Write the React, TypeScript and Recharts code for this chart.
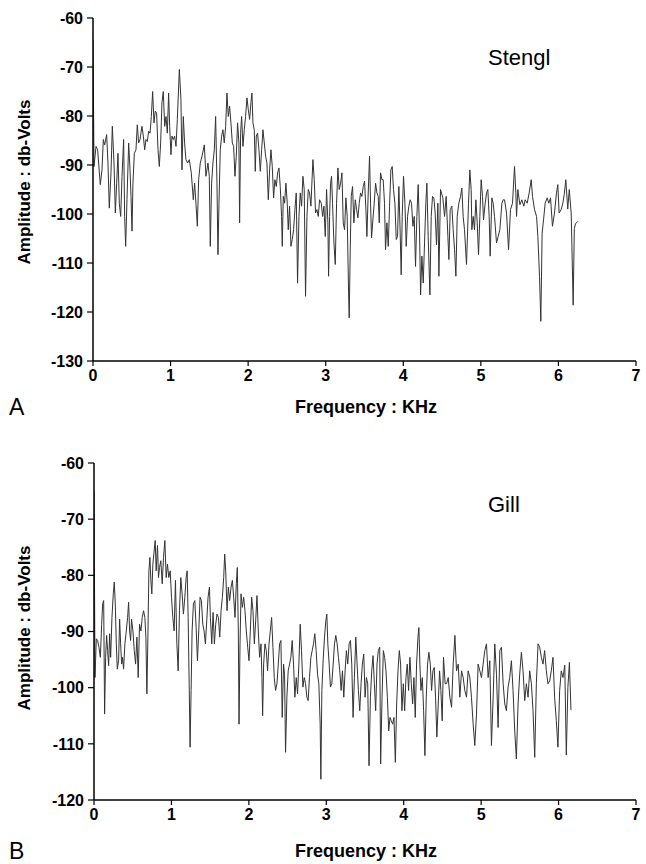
import React from 'react';
import { LineChart, Line, XAxis, YAxis } from 'recharts';

const freqTicks = [0, 1, 2, 3, 4, 5, 6, 7];
const stenglTicks = [-130, -120, -110, -100, -90, -80, -70, -60];
const gillTicks = [-120, -110, -100, -90, -80, -70, -60];

const stenglKHz = [
  0, 0.013, 0.039, 0.06, 0.082, 0.094, 0.116, 0.133, 0.15, 0.176, 0.193, 0.21, 0.232, 0.249, 0.271, 0.288, 0.305, 0.322, 0.339, 0.357,
  0.374, 0.395, 0.408, 0.421, 0.438, 0.46, 0.477, 0.49, 0.503, 0.515, 0.533, 0.554, 0.571, 0.588, 0.606, 0.631, 0.649, 0.666, 0.683, 0.7,
  0.717, 0.735, 0.752, 0.769, 0.786, 0.803, 0.82, 0.838, 0.855, 0.872, 0.889, 0.906, 0.924, 0.941, 0.958, 0.975, 0.988, 1.005, 1.018, 1.035,
  1.052, 1.07, 1.087, 1.113, 1.134, 1.147, 1.164, 1.181, 1.198, 1.22, 1.241, 1.267, 1.293, 1.31, 1.327, 1.345, 1.362, 1.383, 1.405, 1.435,
  1.456, 1.482, 1.499, 1.512, 1.529, 1.546, 1.564, 1.581, 1.598, 1.611, 1.624, 1.641, 1.658, 1.675, 1.692, 1.71, 1.727, 1.744, 1.761, 1.778,
  1.796, 1.813, 1.83, 1.847, 1.864, 1.881, 1.89, 1.903, 1.916, 1.933, 1.95, 1.967, 1.985, 2.002, 2.019, 2.036, 2.049, 2.062, 2.079, 2.092,
  2.105, 2.122, 2.139, 2.157, 2.174, 2.191, 2.208, 2.225, 2.242, 2.26, 2.277, 2.294, 2.311, 2.328, 2.345, 2.363, 2.38, 2.397, 2.414, 2.431,
  2.44, 2.453, 2.47, 2.487, 2.504, 2.517, 2.534, 2.552, 2.569, 2.586, 2.603, 2.62, 2.637, 2.655, 2.672, 2.689, 2.706, 2.723, 2.74, 2.758,
  2.775, 2.792, 2.809, 2.835, 2.852, 2.869, 2.887, 2.904, 2.921, 2.943, 2.96, 2.977, 2.994, 3.011, 3.028, 3.037, 3.05, 3.063, 3.075, 3.088,
  3.106, 3.123, 3.14, 3.157, 3.174, 3.192, 3.209, 3.226, 3.243, 3.26, 3.277, 3.295, 3.303, 3.316, 3.329, 3.346, 3.363, 3.381, 3.398, 3.415,
  3.432, 3.449, 3.466, 3.484, 3.501, 3.518, 3.531, 3.548, 3.565, 3.578, 3.591, 3.608, 3.625, 3.643, 3.66, 3.677, 3.69, 3.707, 3.724, 3.741,
  3.758, 3.771, 3.789, 3.806, 3.823, 3.84, 3.857, 3.874, 3.892, 3.909, 3.926, 3.943, 3.96, 3.973, 3.986, 4.003, 4.021, 4.038, 4.055, 4.072,
  4.089, 4.106, 4.124, 4.141, 4.158, 4.175, 4.192, 4.21, 4.223, 4.24, 4.257, 4.274, 4.291, 4.304, 4.321, 4.343, 4.36, 4.377, 4.394, 4.411,
  4.428, 4.446, 4.459, 4.48, 4.51, 4.532, 4.553, 4.575, 4.588, 4.605, 4.626, 4.643, 4.661, 4.678, 4.695, 4.716, 4.738, 4.755, 4.772, 4.789,
  4.815, 4.841, 4.858, 4.875, 4.884, 4.901, 4.918, 4.936, 4.953, 4.97, 4.987, 5.004, 5.021, 5.034, 5.056, 5.073, 5.09, 5.107, 5.12, 5.142,
  5.159, 5.176, 5.202, 5.223, 5.245, 5.271, 5.288, 5.305, 5.331, 5.357, 5.382, 5.408, 5.434, 5.451, 5.46, 5.477, 5.503, 5.528, 5.554, 5.571,
  5.597, 5.623, 5.649, 5.666, 5.692, 5.718, 5.735, 5.756, 5.773, 5.79, 5.808, 5.829, 5.855, 5.876, 5.898, 5.923, 5.949, 5.975, 5.992, 6.009,
  6.035, 6.057, 6.075, 6.095, 6.12, 6.14, 6.165, 6.19, 6.205, 6.22, 6.25,
];
const stenglDb = [
  -64.4, -90.3, -86.2, -86.9, -91.6, -94.0, -91.0, -84.8, -85.9, -83.8, -89.6, -98.8, -91.6, -82.1, -89.6, -99.8, -93.7, -87.6, -97.8, -100.5,
  -92.3, -84.8, -100.5, -106.6, -97.1, -85.5, -91.0, -96.4, -103.5, -93.7, -87.6, -86.9, -81.8, -85.5, -84.8, -82.1, -84.1, -86.9, -84.8, -85.2,
  -83.1, -83.5, -80.1, -75.0, -81.4, -79.0, -79.4, -86.9, -90.3, -85.5, -77.3, -75.0, -82.1, -80.1, -83.5, -75.3, -82.1, -87.9, -84.1, -84.8,
  -84.1, -86.2, -80.7, -70.5, -76.7, -91.0, -80.1, -85.5, -88.9, -89.6, -88.9, -91.6, -97.1, -93.7, -97.8, -102.5, -93.0, -89.6, -88.2, -85.9,
  -92.3, -89.6, -92.3, -106.6, -93.7, -89.6, -86.9, -80.1, -93.7, -108.3, -97.8, -86.9, -84.1, -82.8, -85.5, -82.1, -75.3, -80.1, -78.0, -81.4,
  -85.5, -86.2, -92.3, -88.2, -81.4, -85.5, -101.8, -83.5, -80.1, -86.2, -82.8, -80.1, -76.3, -78.7, -80.7, -77.3, -75.3, -81.4, -82.8, -91.3,
  -84.1, -83.5, -86.9, -91.3, -86.9, -82.8, -85.5, -88.2, -89.6, -97.1, -91.0, -86.9, -90.3, -96.7, -93.0, -94.4, -91.6, -90.6, -94.4, -100.5,
  -106.6, -96.4, -97.8, -93.7, -97.8, -103.2, -98.4, -106.6, -105.2, -103.2, -99.1, -95.7, -114.1, -100.5, -95.7, -98.4, -92.3, -95.0, -116.8, -100.5,
  -95.0, -95.7, -98.4, -88.9, -93.0, -99.8, -99.1, -100.5, -97.1, -97.8, -100.5, -98.4, -104.6, -95.0, -101.8, -112.7, -100.5, -93.7, -92.3, -97.8,
  -105.9, -110.3, -97.8, -90.6, -95.0, -93.7, -91.6, -101.8, -103.2, -96.7, -100.5, -116.1, -121.2, -107.3, -96.4, -94.4, -101.8, -97.1, -99.1, -100.8,
  -97.8, -95.7, -96.4, -94.4, -93.3, -99.1, -104.6, -95.7, -88.2, -97.8, -104.9, -101.2, -97.8, -93.7, -95.7, -96.4, -101.8, -91.6, -93.0, -93.0,
  -97.8, -107.3, -101.8, -106.6, -98.4, -91.0, -90.3, -95.0, -97.8, -105.2, -104.6, -94.4, -103.9, -112.4, -100.5, -92.3, -97.8, -106.6, -100.5, -98.4,
  -97.1, -97.8, -102.5, -100.5, -110.7, -100.5, -94.0, -103.9, -116.5, -108.6, -114.1, -105.9, -97.8, -93.7, -104.6, -116.5, -100.5, -96.4, -96.7, -99.8,
  -106.3, -97.8, -112.7, -95.0, -96.7, -100.5, -96.4, -104.6, -109.3, -99.1, -98.4, -103.2, -107.3, -112.7, -100.5, -97.8, -96.4, -94.7, -100.5, -103.2,
  -110.3, -97.8, -91.0, -95.0, -103.2, -100.5, -103.2, -97.1, -101.8, -108.3, -100.5, -93.0, -96.4, -101.2, -97.8, -95.7, -95.0, -100.5, -108.6, -96.7,
  -97.8, -100.5, -105.9, -104.6, -103.2, -97.8, -97.1, -97.1, -99.8, -107.3, -99.1, -97.8, -90.3, -95.7, -100.5, -95.0, -98.1, -97.1, -98.4, -97.1,
  -97.8, -95.7, -93.0, -96.4, -99.1, -100.5, -104.6, -112.7, -121.9, -103.9, -101.2, -97.8, -96.7, -97.8, -96.7, -102.5, -99.8, -95.7, -94.0, -99.8,
  -99.1, -97.8, -96.0, -93.0, -99.0, -95.0, -100.0, -118.6, -103.0, -102.0, -101.5,
];

const gillKHz = [
  0, 0.013, 0.03, 0.047, 0.064, 0.082, 0.099, 0.112, 0.125, 0.137, 0.15, 0.163, 0.176, 0.189, 0.202, 0.215, 0.232, 0.249, 0.262, 0.275,
  0.288, 0.301, 0.318, 0.331, 0.344, 0.357, 0.369, 0.382, 0.399, 0.417, 0.434, 0.447, 0.46, 0.473, 0.485, 0.503, 0.52, 0.537, 0.554, 0.571,
  0.588, 0.606, 0.623, 0.64, 0.657, 0.67, 0.683, 0.696, 0.709, 0.722, 0.735, 0.747, 0.76, 0.773, 0.79, 0.803, 0.82, 0.833, 0.846, 0.863,
  0.881, 0.898, 0.915, 0.932, 0.949, 0.966, 0.984, 1.001, 1.018, 1.035, 1.052, 1.07, 1.087, 1.104, 1.121, 1.138, 1.155, 1.173, 1.19, 1.203,
  1.216, 1.229, 1.241, 1.254, 1.267, 1.284, 1.302, 1.319, 1.336, 1.353, 1.37, 1.387, 1.405, 1.422, 1.439, 1.456, 1.473, 1.491, 1.503, 1.521,
  1.538, 1.555, 1.572, 1.589, 1.607, 1.624, 1.641, 1.658, 1.675, 1.688, 1.701, 1.718, 1.735, 1.752, 1.77, 1.787, 1.804, 1.821, 1.838, 1.851,
  1.864, 1.873, 1.886, 1.899, 1.916, 1.933, 1.95, 1.967, 1.985, 2.002, 2.019, 2.036, 2.053, 2.071, 2.088, 2.105, 2.122, 2.139, 2.157, 2.169,
  2.178, 2.191, 2.208, 2.225, 2.242, 2.26, 2.277, 2.294, 2.311, 2.328, 2.345, 2.363, 2.38, 2.397, 2.414, 2.431, 2.448, 2.461, 2.474, 2.491,
  2.508, 2.526, 2.543, 2.56, 2.577, 2.594, 2.612, 2.629, 2.646, 2.663, 2.68, 2.698, 2.715, 2.732, 2.749, 2.766, 2.783, 2.801, 2.818, 2.835,
  2.852, 2.869, 2.887, 2.904, 2.921, 2.93, 2.943, 2.96, 2.977, 2.994, 3.007, 3.02, 3.037, 3.054, 3.071, 3.089, 3.106, 3.123, 3.14, 3.157,
  3.174, 3.192, 3.209, 3.226, 3.243, 3.26, 3.277, 3.295, 3.312, 3.329, 3.346, 3.363, 3.381, 3.398, 3.415, 3.432, 3.449, 3.466, 3.484, 3.501,
  3.518, 3.535, 3.552, 3.57, 3.587, 3.604, 3.621, 3.638, 3.655, 3.672, 3.69, 3.702, 3.72, 3.737, 3.754, 3.771, 3.789, 3.806, 3.823, 3.84,
  3.857, 3.874, 3.892, 3.909, 3.926, 3.943, 3.96, 3.977, 3.995, 4.012, 4.029, 4.046, 4.063, 4.08, 4.098, 4.115, 4.132, 4.149, 4.166, 4.184,
  4.196, 4.209, 4.222, 4.24, 4.257, 4.274, 4.291, 4.308, 4.325, 4.343, 4.36, 4.377, 4.394, 4.411, 4.428, 4.446, 4.463, 4.48, 4.497, 4.514,
  4.535, 4.553, 4.575, 4.596, 4.618, 4.639, 4.661, 4.682, 4.704, 4.725, 4.747, 4.768, 4.789, 4.811, 4.832, 4.854, 4.875, 4.897, 4.918, 4.94,
  4.961, 4.983, 5.004, 5.026, 5.047, 5.069, 5.09, 5.112, 5.133, 5.155, 5.176, 5.198, 5.219, 5.241, 5.262, 5.284, 5.305, 5.326, 5.348, 5.369,
  5.391, 5.412, 5.434, 5.455, 5.477, 5.498, 5.52, 5.541, 5.563, 5.584, 5.606, 5.627, 5.649, 5.67, 5.692, 5.713, 5.735, 5.756, 5.778, 5.799,
  5.82, 5.842, 5.863, 5.885, 5.906, 5.928, 5.949, 5.971, 5.992, 6.014, 6.035, 6.057, 6.08, 6.1, 6.12, 6.14, 6.16,
];
const gillDb = [
  -64.9, -98.2, -91.3, -91.6, -92.8, -94.6, -88.7, -85.1, -84.5, -104.7, -94.6, -90.7, -93.4, -96.1, -90.4, -94.6, -87.5, -83.3, -81.2, -85.1,
  -92.2, -96.7, -95.2, -87.8, -92.2, -95.8, -94.6, -96.7, -92.2, -89.9, -87.5, -84.8, -89.9, -91.6, -87.8, -89.9, -93.4, -95.8, -91.0, -98.2,
  -88.7, -89.9, -87.5, -86.3, -87.5, -91.0, -101.1, -91.0, -79.2, -76.8, -81.0, -83.3, -78.0, -76.2, -73.8, -79.2, -74.7, -80.4, -78.6, -77.4,
  -81.5, -76.8, -73.8, -80.4, -78.0, -80.4, -79.2, -83.9, -87.5, -89.9, -80.9, -92.2, -97.0, -86.3, -80.4, -83.3, -86.9, -83.9, -80.4, -79.2,
  -87.5, -99.3, -110.6, -100.5, -89.9, -85.1, -84.5, -89.3, -95.2, -89.9, -83.9, -84.5, -88.7, -89.9, -92.2, -88.1, -83.9, -82.1, -87.5, -92.2,
  -86.6, -92.2, -88.7, -86.9, -87.5, -91.0, -86.3, -83.9, -80.4, -76.2, -79.2, -86.3, -82.1, -84.5, -82.1, -80.9, -83.9, -87.5, -81.5, -78.6,
  -89.9, -106.5, -92.2, -83.3, -85.7, -83.9, -86.3, -89.9, -92.8, -95.2, -89.9, -83.9, -86.3, -92.2, -88.1, -83.6, -89.9, -94.6, -92.2, -98.2,
  -105.0, -95.8, -92.2, -93.4, -97.0, -92.2, -89.9, -87.5, -92.8, -98.2, -100.5, -99.3, -95.8, -92.2, -91.6, -105.3, -95.8, -97.6, -111.5, -101.7,
  -97.0, -95.8, -94.6, -91.6, -95.8, -101.7, -98.2, -101.1, -95.8, -88.7, -93.4, -99.9, -98.2, -99.3, -101.7, -102.3, -98.2, -94.6, -93.4, -92.2,
  -90.4, -93.4, -97.6, -99.3, -106.5, -116.3, -100.5, -95.0, -91.0, -88.1, -86.9, -92.2, -95.8, -99.9, -99.3, -95.8, -92.2, -90.7, -92.2, -94.6,
  -97.0, -100.5, -97.0, -101.7, -97.0, -93.4, -95.8, -92.2, -91.6, -95.8, -105.3, -98.2, -91.0, -95.8, -100.5, -104.1, -99.3, -95.8, -94.0, -101.7,
  -98.2, -99.3, -113.9, -101.7, -97.0, -94.3, -99.3, -104.1, -95.8, -93.4, -92.8, -113.6, -101.7, -93.4, -94.6, -97.0, -101.7, -107.7, -105.3, -105.9,
  -106.5, -105.3, -113.3, -102.9, -97.0, -93.4, -95.8, -104.1, -99.3, -104.1, -98.2, -95.8, -100.5, -94.6, -99.3, -102.9, -98.2, -105.3, -95.8, -91.0,
  -89.3, -95.8, -100.5, -98.2, -104.1, -112.1, -101.7, -95.8, -93.7, -95.8, -100.5, -97.0, -96.4, -101.7, -108.8, -102.9, -97.0, -100.5, -105.9, -94.6,
  -99.3, -99.3, -98.2, -101.7, -103.5, -95.8, -90.7, -97.0, -95.8, -101.7, -97.0, -98.2, -100.5, -101.7, -97.0, -98.2, -101.7, -106.5, -110.3, -104.7,
  -95.8, -97.0, -98.2, -95.8, -93.4, -92.2, -98.2, -95.2, -110.3, -101.7, -92.2, -97.6, -107.1, -93.4, -92.8, -99.3, -102.9, -104.1, -99.9, -98.2,
  -95.2, -100.5, -107.7, -112.7, -102.9, -97.6, -93.7, -97.0, -102.3, -99.3, -101.7, -97.0, -99.3, -104.1, -112.4, -99.3, -92.2, -92.8, -94.6, -95.8,
  -93.4, -97.0, -99.3, -98.8, -97.0, -94.6, -101.7, -105.9, -110.6, -100.5, -97.0, -98.2, -96.0, -112.0, -100.0, -95.5, -104.0,
];

const toRows = (xs: number[], ys: number[]) => {
  const n = Math.min(xs.length, ys.length);
  const rows: { f: number; v: number }[] = [];
  for (let i = 0; i < n; i++) rows.push({ f: xs[i], v: ys[i] });
  return rows;
};

const stenglRows = toRows(stenglKHz, stenglDb);
const gillRows = toRows(gillKHz, gillDb);

const FONT = '"Liberation Sans", Arial, Helvetica, sans-serif';
const tickStyle = { fontFamily: FONT, fontSize: 16, fontWeight: 700, fill: '#000' };

type PanelProps = {
  top: number;
  height: number;
  margin: { top: number; right: number; bottom: number; left: number };
  rows: { f: number; v: number }[];
  yTicks: number[];
  yDomain: [number, number];
};

function Panel({ top, height, margin, rows, yTicks, yDomain }: PanelProps) {
  return (
    <div style={{ position: 'absolute', left: 0, top, width: 646, height }}>
      <LineChart width={646} height={height} data={rows} margin={margin}>
        <XAxis
          type="number"
          dataKey="f"
          domain={[0, 7]}
          ticks={freqTicks}
          allowDataOverflow
          height={30}
          tick={tickStyle}
          tickSize={5}
          tickMargin={4}
          axisLine={{ stroke: '#000', strokeWidth: 1.5 }}
          tickLine={{ stroke: '#000', strokeWidth: 1.2 }}
        />
        <YAxis
          type="number"
          dataKey="v"
          domain={yDomain}
          ticks={yTicks}
          allowDataOverflow
          width={93}
          tick={tickStyle}
          tickSize={6}
          tickMargin={4}
          axisLine={{ stroke: '#000', strokeWidth: 1.5 }}
          tickLine={{ stroke: '#000', strokeWidth: 1.2 }}
        />
        <Line
          type="linear"
          dataKey="v"
          stroke="#333333"
          strokeWidth={1}
          dot={false}
          activeDot={false}
          isAnimationActive={false}
        />
      </LineChart>
    </div>
  );
}

const textBase: React.CSSProperties = { position: 'absolute', fontFamily: FONT, color: '#000', whiteSpace: 'nowrap', lineHeight: 1 };

export default function App() {
  return (
    <div style={{ position: 'absolute', left: 0, top: 0, width: 646, height: 864, background: '#fff', overflow: 'hidden' }}>
      <Panel top={0} height={420} margin={{ top: 18, right: 10, bottom: 29, left: 0 }} rows={stenglRows} yTicks={stenglTicks} yDomain={[-130, -60]} />
      <Panel top={440} height={424} margin={{ top: 23, right: 10, bottom: 34, left: 1 }} rows={gillRows} yTicks={gillTicks} yDomain={[-120, -60]} />

      <div style={{ ...textBase, left: 488, top: 47, fontSize: 22 }}>Stengl</div>
      <div style={{ ...textBase, left: 488, top: 494, fontSize: 22 }}>Gill</div>

      <div style={{ ...textBase, left: 366, top: 398, fontSize: 18, fontWeight: 700, transform: 'translateX(-50%)' }}>Frequency : KHz</div>
      <div style={{ ...textBase, left: 366, top: 842, fontSize: 18, fontWeight: 700, transform: 'translateX(-50%)' }}>Frequency : KHz</div>

      <div style={{ ...textBase, left: 24, top: 182, fontSize: 17, fontWeight: 700, transform: 'translate(-50%, -50%) rotate(-90deg)' }}>Amplitude : db-Volts</div>
      <div style={{ ...textBase, left: 24, top: 628, fontSize: 17, fontWeight: 700, transform: 'translate(-50%, -50%) rotate(-90deg)' }}>Amplitude : db-Volts</div>

      <div style={{ ...textBase, left: 9, top: 396, fontSize: 23 }}>A</div>
      <div style={{ ...textBase, left: 9, top: 840, fontSize: 23 }}>B</div>
    </div>
  );
}
